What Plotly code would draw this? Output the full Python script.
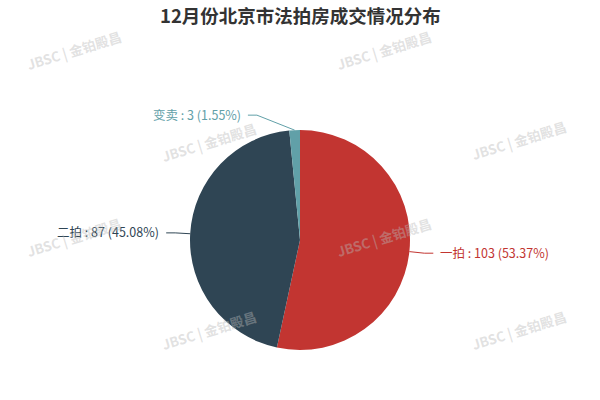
import math
import plotly.graph_objects as go

# ---- data ----
categories = ["一拍", "二拍", "变卖"]
counts = [103, 87, 3]
colors = ["#c23531", "#2f4554", "#61a0a8"]
title_text = "12月份北京市法拍房成交情况分布"
watermark_text = "JBSC | 金铂殿昌"

# ---- layout geometry (pixels) ----
W, H = 600, 400
CX, CY, R = 300, 240, 110
L1, L2, GAP = 15, 9, 5
elbow_shift = [0, 0, -37]   # label-layout tweak for the label near the top
FONT = "Noto Sans CJK SC, Microsoft YaHei, sans-serif"

def px(x):
    return x / W

def py(y):
    return 1 - y / H

fig = go.Figure()
fig.add_trace(go.Pie(
    labels=categories,
    values=counts,
    marker=dict(colors=colors, line=dict(width=0)),
    sort=False,
    direction="clockwise",
    rotation=0,
    textinfo="none",
    hoverinfo="label+value+percent",
    showlegend=False,
    domain=dict(x=[px(CX - R), px(CX + R)], y=[py(CY + R), py(CY - R)]),
))

total = sum(counts)
shapes = []
annotations = []
cum = 0
for name, v, col, shift in zip(categories, counts, colors, elbow_shift):
    frac = v / total
    mid = (cum + frac / 2) * 2 * math.pi
    cum += frac
    sx, sy = math.sin(mid), -math.cos(mid)
    ex, ey = CX + R * sx, CY + R * sy
    bx, by = CX + (R + L1) * sx + shift, CY + (R + L1) * sy
    side = 1 if sx >= 0 else -1
    tx = bx + side * L2
    shapes.append(dict(
        type="path",
        path=f"M {px(ex)},{py(ey)} L {px(bx)},{py(by)} L {px(tx)},{py(by)}",
        xref="paper", yref="paper",
        line=dict(color=col, width=1),
    ))
    pct = f"{frac * 100:.2f}"
    annotations.append(dict(
        x=px(tx + side * GAP), y=py(by - 1), xref="paper", yref="paper",
        text=f"{name} : {v} ({pct}%)",
        showarrow=False,
        xanchor="left" if side > 0 else "right", yanchor="middle",
        font=dict(family=FONT, size=12.5, color=col),
    ))

# title
annotations.append(dict(
    x=0.5, y=py(15), xref="paper", yref="paper",
    text=f"<b>{title_text}</b>", showarrow=False,
    xanchor="center", yanchor="middle",
    font=dict(family=FONT, size=18.5, color="#333333"),
))

# watermarks
wm_pos = [(74, 50), (384, 50), (209, 142), (519, 140),
          (74, 237), (384, 237), (209, 330), (519, 330)]
for (wx, wy) in wm_pos:
    annotations.append(dict(
        x=px(wx), y=py(wy), xref="paper", yref="paper",
        text=f"<b>{watermark_text}</b>", showarrow=False,
        xanchor="center", yanchor="middle", textangle=-17,
        font=dict(family=FONT, size=13.5, color="rgba(185,185,185,0.42)"),
    ))

fig.update_layout(
    width=W, height=H,
    margin=dict(l=0, r=0, t=0, b=0),
    paper_bgcolor="white",
    plot_bgcolor="white",
    shapes=shapes,
    annotations=annotations,
)

fig.write_html(
    "out.html",
    config={"displayModeBar": False},
    post_script="document.body.style.margin='0';document.body.style.overflow='hidden';",
)
